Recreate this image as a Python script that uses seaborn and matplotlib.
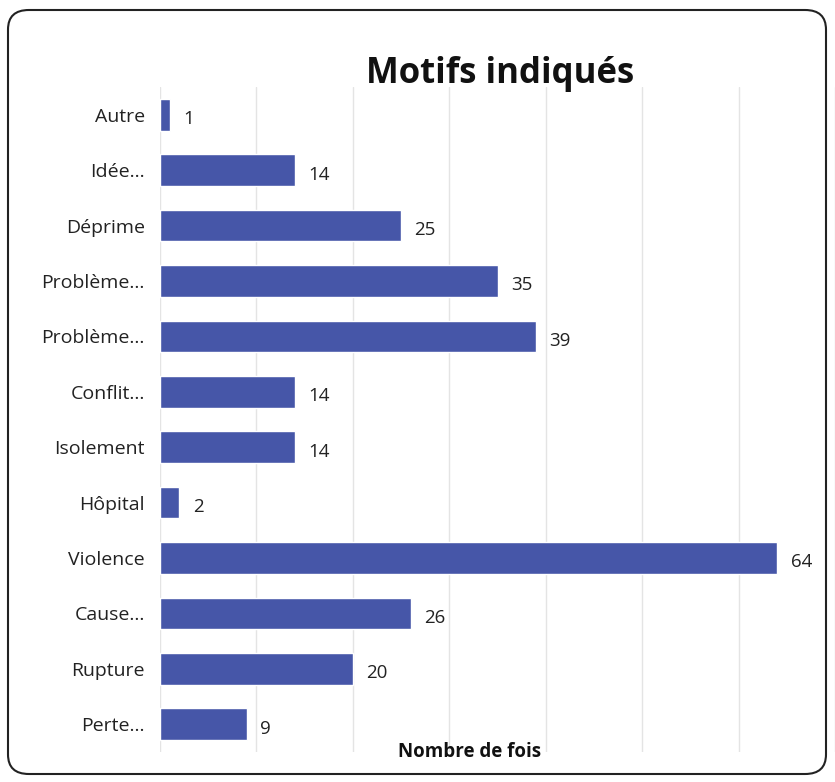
import matplotlib
matplotlib.use("Agg")
import matplotlib.pyplot as plt
import seaborn as sns
import pandas as pd
from matplotlib.patches import FancyBboxPatch

# Data (top to bottom)
motifs = ["Autre", "Idée...", "Déprime", "Problème...", "Problème...", "Conflit...",
          "Isolement", "Hôpital", "Violence", "Cause...", "Rupture", "Perte..."]
nombre = [1, 14, 25, 35, 39, 14, 14, 2, 64, 26, 20, 9]

# unique keys so duplicate labels get their own row
df = pd.DataFrame({"key": [f"{i}_{m}" for i, m in enumerate(motifs)],
                   "motif": motifs, "nombre": nombre})

sns.set_style("white")
plt.rcParams["font.family"] = ["Open Sans", "DejaVu Sans"]

fig = plt.figure(figsize=(8.35, 7.82), dpi=100)
ax = fig.add_axes([160 / 835, 1 - 752 / 782, 675 / 835, (752 - 87) / 782])

sns.barplot(data=df, y="key", x="nombre", orient="h", color="#4656A8",
            width=0.57, saturation=1, ax=ax)

ax.set_xlim(0, 70)
ax.set_xticks(range(0, 71, 10))
ax.tick_params(axis="x", length=0, labelbottom=False)
ax.tick_params(axis="y", length=0, pad=11)
ax.set_yticks(range(len(motifs)))
ax.set_yticklabels(motifs, fontsize=14, color="#222222")
ax.grid(axis="x", color="#e4e4e4", linewidth=1)
ax.set_axisbelow(True)
for s in ax.spines.values():
    s.set_visible(False)

for i, v in enumerate(nombre):
    ax.text(v + 1.4, i + 0.08, str(v), va="center", ha="left", fontsize=13.5, color="#222222")

ax.set_ylabel("")
ax.set_xlabel("")
fig.text(470 / 835, 1 - 752 / 782, "Nombre de fois", ha="center", va="center",
         fontsize=13.5, fontweight="bold", color="#111111")
fig.text(500 / 835, 1 - 74 / 782, "Motifs indiqués", ha="center", va="center",
         fontsize=25, fontweight="bold", color="#111111")

# rounded border around the chart
frame = FancyBboxPatch((8 / 835, 8 / 782), 818 / 835, 764 / 782,
                       boxstyle="round,pad=0,rounding_size=0.025",
                       transform=fig.transFigure, fill=False,
                       edgecolor="#222222", linewidth=1.5)
fig.patches.append(frame)

fig.savefig("out.png", dpi=100)
plt.close(fig)
